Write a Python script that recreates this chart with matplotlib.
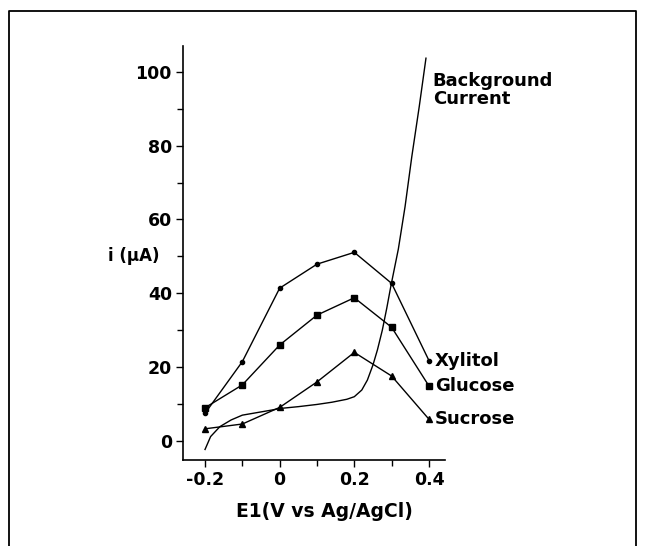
import numpy as np
import matplotlib.pyplot as plt
from matplotlib.lines import Line2D
from matplotlib.ticker import MultipleLocator

plt.rcParams["font.family"] = ["DejaVu Sans"]
plt.rcParams["font.weight"] = "bold"

# applied potential (V vs Ag/AgCl)
potential = [-0.2, -0.1, 0.0, 0.1, 0.2, 0.3, 0.4]

# peak currents (uA)
xylitol = [7.5, 21.5, 41.4, 47.9, 51.1, 42.7, 21.8]
glucose = [9.0, 15.2, 26.0, 34.1, 38.8, 30.8, 14.9]
sucrose = [3.3, 4.6, 9.1, 16.0, 24.0, 17.6, 5.9]

# background current trace
bg_potential = [-0.2, -0.185, -0.16, -0.13, -0.1, -0.06, -0.02, 0.0, 0.05, 0.1,
                0.14, 0.18, 0.2, 0.22, 0.235, 0.25, 0.262, 0.275, 0.287, 0.298,
                0.318, 0.336, 0.354, 0.374, 0.392]
bg_current = [-2.3, 1.2, 3.9, 5.7, 7.0, 7.7, 8.4, 8.8, 9.3, 9.9,
              10.5, 11.3, 12.0, 13.8, 16.5, 20.6, 24.7, 30.0, 36.0, 42.0,
              52.0, 63.5, 77.0, 90.6, 103.7]

W, H = 647, 546
fig = plt.figure(figsize=(W / 100, H / 100), dpi=100)
ax = fig.add_axes([183 / W, 1 - 460 / H, (445 - 183) / W, (460 - 46) / H])

lw = 1.0
ax.plot(potential, xylitol, color="black", lw=lw, marker="o", ms=3)
ax.plot(potential, glucose, color="black", lw=lw, marker="s", ms=5)
ax.plot(potential, sucrose, color="black", lw=lw, marker="^", ms=5)
ax.plot(bg_potential, bg_current, color="black", lw=lw)

ax.set_xlim(-0.259, 0.443)
ax.set_ylim(-5.15, 107)

ax.spines["top"].set_visible(False)
ax.spines["right"].set_visible(False)
for s in ("left", "bottom"):
    ax.spines[s].set_linewidth(1.2)

fs = 12.5
ax.set_xticks([-0.2, 0, 0.2, 0.4])
ax.set_xticklabels(["-0.2", "0", "0.2", "0.4"])
ax.xaxis.set_minor_locator(MultipleLocator(0.1))
ax.set_yticks([0, 20, 40, 60, 80, 100])
ax.yaxis.set_minor_locator(MultipleLocator(10))
ax.tick_params(axis="both", which="major", labelsize=fs, length=5, width=1, pad=3)
ax.tick_params(axis="both", which="minor", length=4, width=1)
for lab in ax.get_xticklabels() + ax.get_yticklabels():
    lab.set_fontweight("bold")

ax.set_xlabel("E1(V vs Ag/AgCl)", fontsize=13.5, fontweight="bold")
ax.xaxis.set_label_coords((324 - 183) / (445 - 183), -(42) / (460 - 46))
ax.text(-(183 - 160) / (445 - 183), 50, "i (\u00b5A)", transform=ax.get_yaxis_transform(),
        fontsize=12, fontweight="bold", ha="right", va="center")

# curve labels
lx = 0.416
ax.text(lx, xylitol[-1], "Xylitol", fontsize=13, fontweight="bold", va="center")
ax.text(lx, glucose[-1], "Glucose", fontsize=13, fontweight="bold", va="center")
ax.text(lx, sucrose[-1], "Sucrose", fontsize=13, fontweight="bold", va="center")
ax.text(0.41, 100, "Background\nCurrent", fontsize=13, fontweight="bold",
        va="top", ha="left", linespacing=1.0, clip_on=False)

# page border
fig.add_artist(Line2D([9 / W, 9 / W, 636 / W, 636 / W], [0, 1 - 11 / H, 1 - 11 / H, 0],
                      transform=fig.transFigure, color="black", lw=1.3))

fig.savefig("out.png", dpi=100)
